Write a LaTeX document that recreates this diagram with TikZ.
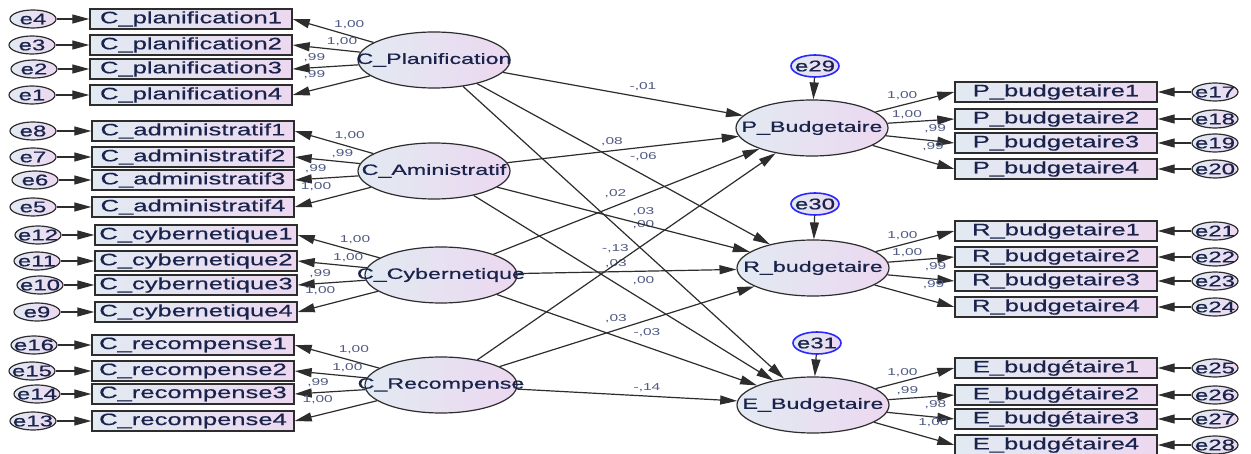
\documentclass[tikz,border=0pt]{standalone}
\usepackage{fontspec}
\setmainfont{Liberation Sans}[FakeStretch=1.55]
\newfontfamily\nodefont{Liberation Sans}[FakeStretch=1.55, FakeBold=0.6]
\usetikzlibrary{arrows.meta,shapes.geometric}
\definecolor{boxl}{RGB}{226,234,242}
\definecolor{boxr}{RGB}{236,216,240}
\definecolor{coef}{RGB}{80,90,130}
\definecolor{txt}{RGB}{25,35,75}
\definecolor{edge}{RGB}{45,45,45}
\definecolor{resid}{RGB}{40,40,255}
\newcommand\zw[1]{\makebox[0pt]{#1}}
\tikzset{
  ind/.style={draw=edge, line width=1.4pt, left color=boxl, right color=boxr, minimum width=202pt, minimum height=20pt, inner sep=0pt, font=\nodefont\fontsize{16.5}{16.5}\selectfont, text=txt},
  lat/.style={ellipse, draw=edge, line width=1.2pt, left color=boxl, right color=boxr, minimum width=152pt, minimum height=56pt, inner sep=0pt, font=\nodefont\fontsize{15}{15}\selectfont, text=txt},
  err/.style={ellipse, draw=edge, line width=1.2pt, left color=boxl, right color=boxr, minimum width=46pt, minimum height=18pt, inner sep=0pt, font=\nodefont\fontsize{15.5}{15.5}\selectfont, text=txt},
  dis/.style={err, draw=resid, line width=1.6pt, minimum width=48pt, minimum height=22pt},
  ld/.style={font=\fontsize{10}{10}\selectfont, text=coef, inner sep=0pt},
  pcd/.style={ld, midway, xshift=20pt, yshift=7.5pt},
  pcu/.style={ld, midway, xshift=-11pt, yshift=7.5pt}
}
\begin{document}
\begin{tikzpicture}[x=1pt, y=-1pt, >={Triangle[length=17pt,width=9pt]}, line width=1.2pt, color=edge]
\path[use as bounding box, fill=white] (0,0) rectangle (1251,454);

% latent variables
\node[lat] (pl) at (434,60) {\zw{C\_Planification}};
\node[lat] (ad) at (434,171) {\zw{C\_Aministratif}};
\node[lat] (cy) at (441,275) {\zw{C\_Cybernetique}};
\node[lat] (re) at (441,385) {\zw{C\_Recompense}};
\node[lat] (pb) at (812,128) {\zw{P\_Budgetaire}};
\node[lat] (rb) at (813,268) {\zw{R\_budgetaire}};
\node[lat] (eb) at (813,405) {\zw{E\_Budgetaire}};

% disturbances
\node[dis] (e29) at (815,66) {\zw{e29}};
\node[dis] (e30) at (815,204) {\zw{e30}};
\node[dis] (e31) at (817,343) {\zw{e31}};
\draw[->] (e29) -- (pb);
\draw[->] (e30) -- (rb);
\draw[->] (e31) -- (eb);

% left indicators
\node[ind] (cp1) at (191,19) {C\_planification1};
\node[ind] (cp2) at (191,45) {C\_planification2};
\node[ind] (cp3) at (191,69) {C\_planification3};
\node[ind] (cp4) at (191,95) {C\_planification4};
\node[ind] (ca1) at (193,131) {C\_administratif1};
\node[ind] (ca2) at (193,157) {C\_administratif2};
\node[ind] (ca3) at (193,180) {C\_administratif3};
\node[ind] (ca4) at (193,207) {C\_administratif4};
\node[ind] (cc1) at (196,235) {C\_cybernetique1};
\node[ind] (cc2) at (196,261) {C\_cybernetique2};
\node[ind] (cc3) at (196,285) {C\_cybernetique3};
\node[ind] (cc4) at (196,312) {C\_cybernetique4};
\node[ind] (cr1) at (193,345) {C\_recompense1};
\node[ind] (cr2) at (193,371) {C\_recompense2};
\node[ind] (cr3) at (193,394) {C\_recompense3};
\node[ind] (cr4) at (193,421) {C\_recompense4};

\node[err] (e4) at (33,19) {\zw{e4}};
\node[err] (e3) at (32,45) {\zw{e3}};
\node[err] (e2) at (34,69) {\zw{e2}};
\node[err] (e1) at (32,95) {\zw{e1}};
\node[err] (e8) at (33,131) {\zw{e8}};
\node[err] (e7) at (33,157) {\zw{e7}};
\node[err] (e6) at (35,180) {\zw{e6}};
\node[err] (e5) at (33,207) {\zw{e5}};
\node[err] (e12) at (38,235) {\zw{e12}};
\node[err] (e11) at (37,261) {\zw{e11}};
\node[err] (e10) at (40,285) {\zw{e10}};
\node[err] (e9) at (37,312) {\zw{e9}};
\node[err] (e16) at (34,345) {\zw{e16}};
\node[err] (e15) at (32,371) {\zw{e15}};
\node[err] (e14) at (37,394) {\zw{e14}};
\node[err] (e13) at (33,421) {\zw{e13}};

\draw[->] (e4) -- (cp1); \draw[->] (e3) -- (cp2); \draw[->] (e2) -- (cp3); \draw[->] (e1) -- (cp4);
\draw[->] (e8) -- (ca1); \draw[->] (e7) -- (ca2); \draw[->] (e6) -- (ca3); \draw[->] (e5) -- (ca4);
\draw[->] (e12) -- (cc1); \draw[->] (e11) -- (cc2); \draw[->] (e10) -- (cc3); \draw[->] (e9) -- (cc4);
\draw[->] (e16) -- (cr1); \draw[->] (e15) -- (cr2); \draw[->] (e14) -- (cr3); \draw[->] (e13) -- (cr4);

\draw[->] (pl) -- (cp1.east) node[ld, pos=.3, above=6.5pt] {1,00};
\draw[->] (pl) -- (cp2.east) node[ld, pos=.27, above=3.5pt] {1,00};
\draw[->] (pl) -- (cp3.east) node[ld, pos=.67, above=5.5pt] {,99};
\draw[->] (pl) -- (cp4.east) node[ld, pos=.72, above=10.5pt] {,99};
\draw[->] (ad) -- (ca1.east) node[ld, pos=.3, above=6.5pt] {1,00};
\draw[->] (ad) -- (ca2.east) node[ld, pos=.27, above=3.5pt] {,99};
\draw[->] (ad) -- (ca3.east) node[ld, pos=.67, above=5.5pt] {,99};
\draw[->] (ad) -- (ca4.east) node[ld, pos=.72, above=10.5pt] {1,00};
\draw[->] (cy) -- (cc1.east) node[ld, pos=.3, above=6.5pt] {1,00};
\draw[->] (cy) -- (cc2.east) node[ld, pos=.27, above=3.5pt] {1,00};
\draw[->] (cy) -- (cc3.east) node[ld, pos=.67, above=5.5pt] {,99};
\draw[->] (cy) -- (cc4.east) node[ld, pos=.72, above=10.5pt] {1,00};
\draw[->] (re) -- (cr1.east) node[ld, pos=.3, above=6.5pt] {1,00};
\draw[->] (re) -- (cr2.east) node[ld, pos=.27, above=3.5pt] {1,00};
\draw[->] (re) -- (cr3.east) node[ld, pos=.67, above=5.5pt] {,99};
\draw[->] (re) -- (cr4.east) node[ld, pos=.72, above=10.5pt] {1,00};

% right indicators
\node[ind] (pb1) at (1056,92) {P\_budgetaire1};
\node[ind] (pb2) at (1056,119) {P\_budgetaire2};
\node[ind] (pb3) at (1056,143) {P\_budgetaire3};
\node[ind] (pb4) at (1056,169) {P\_budgetaire4};
\node[ind] (rb1) at (1056,231) {R\_budgetaire1};
\node[ind] (rb2) at (1056,257) {R\_budgetaire2};
\node[ind] (rb3) at (1056,281) {R\_budgetaire3};
\node[ind] (rb4) at (1056,307) {R\_budgetaire4};
\node[ind] (eb1) at (1056,368) {E\_budgétaire1};
\node[ind] (eb2) at (1056,395) {E\_budgétaire2};
\node[ind] (eb3) at (1056,419) {E\_budgétaire3};
\node[ind] (eb4) at (1056,445) {E\_budgétaire4};

\node[err] (e17) at (1215,92) {\zw{e17}};
\node[err] (e18) at (1215,119) {\zw{e18}};
\node[err] (e19) at (1215,143) {\zw{e19}};
\node[err] (e20) at (1215,169) {\zw{e20}};
\node[err] (e21) at (1215,231) {\zw{e21}};
\node[err] (e22) at (1215,257) {\zw{e22}};
\node[err] (e23) at (1215,281) {\zw{e23}};
\node[err] (e24) at (1215,307) {\zw{e24}};
\node[err] (e25) at (1215,368) {\zw{e25}};
\node[err] (e26) at (1215,395) {\zw{e26}};
\node[err] (e27) at (1215,419) {\zw{e27}};
\node[err] (e28) at (1215,445) {\zw{e28}};

\draw[->] (e17) -- (pb1); \draw[->] (e18) -- (pb2); \draw[->] (e19) -- (pb3); \draw[->] (e20) -- (pb4);
\draw[->] (e21) -- (rb1); \draw[->] (e22) -- (rb2); \draw[->] (e23) -- (rb3); \draw[->] (e24) -- (rb4);
\draw[->] (e25) -- (eb1); \draw[->] (e26) -- (eb2); \draw[->] (e27) -- (eb3); \draw[->] (e28) -- (eb4);

\draw[->] (pb) -- (pb1.west) node[ld, pos=.34, above=4.5pt] {1,00};
\draw[->] (pb) -- (pb2.west) node[ld, pos=.29, above=3pt] {1,00};
\draw[->] (pb) -- (pb3.west) node[ld, pos=.72, above=7.5pt] {,99};
\draw[->] (pb) -- (pb4.west) node[ld, pos=.74, above=11.5pt] {,99};
\draw[->] (rb) -- (rb1.west) node[ld, pos=.34, above=4.5pt] {1,00};
\draw[->] (rb) -- (rb2.west) node[ld, pos=.29, above=3pt] {1,00};
\draw[->] (rb) -- (rb3.west) node[ld, pos=.72, above=7.5pt] {,99};
\draw[->] (rb) -- (rb4.west) node[ld, pos=.74, above=11.5pt] {,99};
\draw[->] (eb) -- (eb1.west) node[ld, pos=.34, above=4.5pt] {1,00};
\draw[->] (eb) -- (eb2.west) node[ld, pos=.29, above=3pt] {,99};
\draw[->] (eb) -- (eb3.west) node[ld, pos=.72, above=7.5pt] {,98};
\draw[->] (eb) -- (eb4.west) node[ld, pos=.74, above=11.5pt] {1,00};

% structural paths
\draw[->] (pl) -- (pb) node[pcd] {-,01};
\draw[->] (pl) -- (rb) node[pcd] {-,06};
\draw[->] (pl) -- (eb) node[pcd] {,00};
\draw[->] (ad) -- (pb) node[pcu] {,08};
\draw[->] (ad) -- (rb) node[pcd] {,03};
\draw[->] (ad) -- (eb) node[pcd] {,00};
\draw[->] (cy) -- (pb) node[pcu] {,02};
\draw[->] (cy) -- (rb) node[pcu] {,03};
\draw[->] (cy) -- (eb) node[pcd] {-,03};
\draw[->] (re) -- (pb) node[pcu] {-,13};
\draw[->] (re) -- (rb) node[pcu] {,03};
\draw[->] (re) -- (eb) node[pcd] {-,14};
\end{tikzpicture}
\end{document}
